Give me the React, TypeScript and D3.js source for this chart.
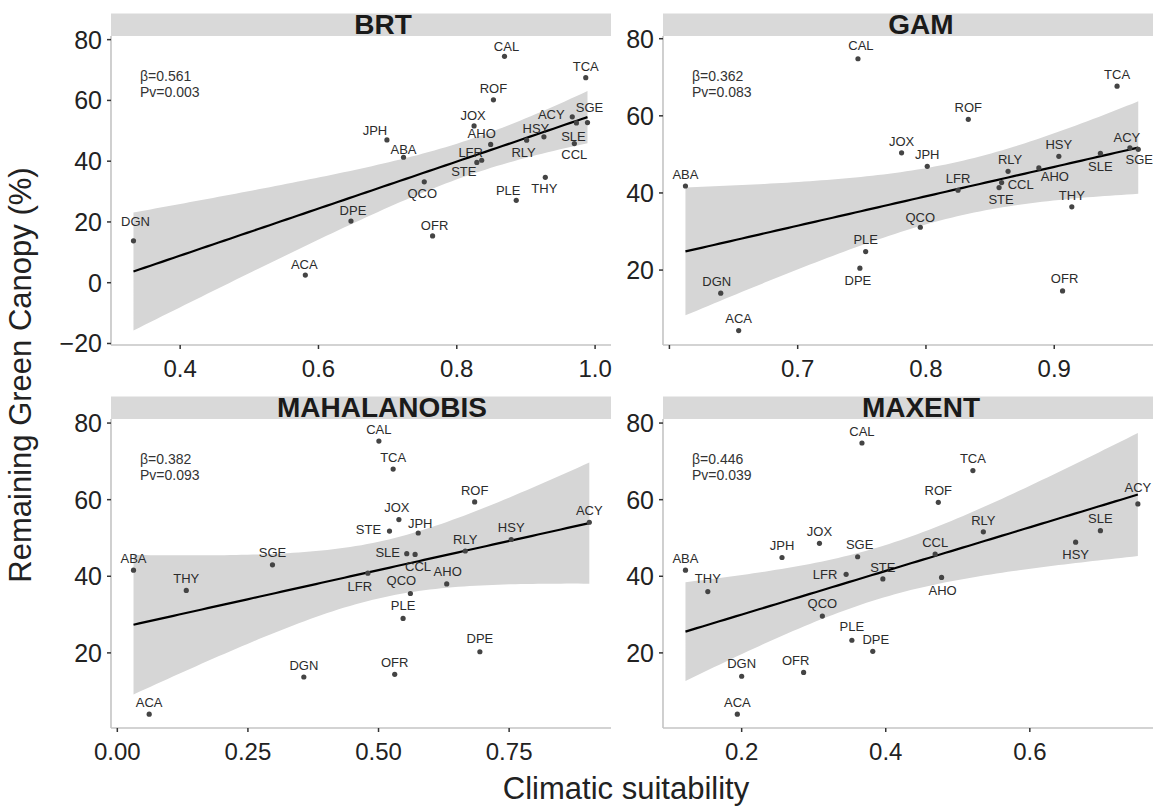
import React from "react";
import * as d3 from "d3";

// species codes, same order in every model
const species = ["ABA", "ACA", "ACY", "AHO", "CAL", "CCL", "DGN", "DPE", "HSY", "JOX", "JPH",
  "LFR", "OFR", "PLE", "QCO", "RLY", "ROF", "SGE", "SLE", "STE", "TCA", "THY"];

// climatic suitability per model
const brtSuit = [0.723, 0.581, 0.967, 0.849, 0.869, 0.970, 0.3325, 0.647, 0.926, 0.825, 0.699,
  0.836, 0.765, 0.886, 0.753, 0.901, 0.853, 0.989, 0.973, 0.829, 0.9865, 0.928];
const gamSuit = [0.6125, 0.654, 0.959, 0.888, 0.747, 0.859, 0.640, 0.7485, 0.9036, 0.781, 0.801,
  0.825, 0.9065, 0.753, 0.7956, 0.864, 0.833, 0.9655, 0.936, 0.857, 0.949, 0.9137];
const mahSuit = [0.031, 0.061, 0.9035, 0.6305, 0.5007, 0.570, 0.357, 0.694, 0.754, 0.539, 0.576,
  0.4796, 0.531, 0.547, 0.561, 0.666, 0.684, 0.297, 0.554, 0.521, 0.528, 0.132];
const maxSuit = [0.122, 0.194, 0.750, 0.4775, 0.367, 0.4686, 0.200, 0.382, 0.6636, 0.308, 0.256,
  0.345, 0.286, 0.353, 0.312, 0.5355, 0.473, 0.361, 0.698, 0.396, 0.521, 0.153];

// remaining green canopy (%) as plotted in each panel
const brtCanopy = [41.3, 2.5, 54.6, 45.5, 74.5, 45.8, 13.8, 20.3, 48.0, 51.6, 47.0,
  40.3, 15.4, 27.1, 33.2, 46.9, 60.2, 52.7, 52.6, 39.6, 67.5, 34.7];
const gamCanopy = [41.8, 4.3, 51.7, 46.5, 74.8, 42.7, 14.0, 20.5, 49.5, 50.4, 46.9,
  40.7, 14.6, 24.8, 31.1, 45.6, 59.1, 51.3, 50.3, 41.4, 67.7, 36.4];
const mahCanopy = [41.6, 4.0, 54.1, 38.0, 75.3, 45.7, 13.7, 20.3, 49.6, 54.8, 51.3,
  40.8, 14.4, 29.0, 35.5, 46.6, 59.4, 43.0, 45.9, 51.8, 68.0, 36.3];
const maxCanopy = [41.6, 4.0, 58.9, 39.7, 74.8, 45.8, 13.9, 20.4, 48.9, 48.6, 44.9,
  40.5, 14.9, 23.3, 29.6, 51.6, 59.3, 45.1, 51.9, 39.3, 67.6, 36.0];

const modelNames = ["BRT", "GAM", "MAHALANOBIS", "MAXENT"];
const betaLabels = ["β=0.561", "β=0.362", "β=0.382", "β=0.446"];
const pvLabels = ["Pv=0.003", "Pv=0.083", "Pv=0.093", "Pv=0.039"];

const brtXTicks = [0.4, 0.6, 0.8, 1.0];
const gamXTicks = [0.6, 0.7, 0.8, 0.9];
const mahXTicks = [0, 0.25, 0.5, 0.75];
const maxXTicks = [0.2, 0.4, 0.6];
const brtYTicks = [-20, 0, 20, 40, 60, 80];
const otherYTicks = [20, 40, 60, 80];

const T_CRIT = 2.086; // qt(0.975, df = 20)

// label nudges (px, label centre relative to the point)
const nudges: Record<string, [number, number]>[] = [
  { DGN: [2, -19], ACA: [-1, -11], CAL: [2, -10], TCA: [0, -11], ROF: [0, -11], JOX: [-1, -11],
    AHO: [-9, -11], JPH: [-12, -10], ABA: [0, -8], LFR: [-11, -8], STE: [-13, 9], QCO: [-2, 11],
    DPE: [2, -11], OFR: [2, -11], PLE: [-8, -10], THY: [-1, 11], RLY: [-3, 12], HSY: [-8, -9],
    ACY: [-21, -3], SGE: [2, -15], SLE: [-3, 13], CCL: [0, 11] },
  { CAL: [3, -13], DPE: [-2, 12], DGN: [-4, -12], RLY: [2, -12], CCL: [19, 2], STE: [2, 12],
    AHO: [16, 8], SLE: [0, 13], ACY: [-3, -11], SGE: [1, 10], QCO: [0, -10], OFR: [2, -13] },
  { JOX: [-2, -12], STE: [-21, -2], JPH: [2, -10], SLE: [-19, -1], CCL: [3, 12], LFR: [-8, 13],
    QCO: [-9, -13], AHO: [1, -13], PLE: [0, -13], DPE: [0, -13] },
  { SGE: [2, -12], LFR: [-21, 0], PLE: [0, -14], DPE: [3, -12], OFR: [-8, -12], AHO: [1, 13],
    HSY: [0, 12], ACY: [0, -17], THY: [0, -13], QCO: [0, -13], DGN: [0, -13] },
];

const FONT = "'Liberation Sans', Arial, Helvetica, sans-serif";

function fitBand(xs: number[], ys: number[]) {
  const n = xs.length;
  const mx = d3.mean(xs)!;
  const my = d3.mean(ys)!;
  const sxx = d3.sum(xs, (x) => (x - mx) ** 2);
  const sxy = d3.sum(xs.map((x, i) => (x - mx) * (ys[i] - my)));
  const b = sxy / sxx;
  const a = my - b * mx;
  const sse = d3.sum(xs.map((x, i) => (ys[i] - a - b * x) ** 2));
  const s = Math.sqrt(sse / (n - 2));
  const [x0, x1] = d3.extent(xs) as [number, number];
  return d3.range(81).map((k) => {
    const x = x0 + ((x1 - x0) * k) / 80;
    const fit = a + b * x;
    const se = s * Math.sqrt(1 / n + (x - mx) ** 2 / sxx);
    return { x, fit, lo: fit - T_CRIT * se, hi: fit + T_CRIT * se };
  });
}

type Panel = {
  xs: number[]; ys: number[];
  left: number; right: number; top: number; bottom: number;
  xDomain: [number, number]; yDomain: [number, number];
  xTicks: number[]; yTicks: number[]; xFmt: string; hideX?: number[];
  titleX: number;
};

const panels: Panel[] = [
  { xs: brtSuit, ys: brtCanopy, left: 111, right: 611, top: 36, bottom: 345,
    xDomain: [0.3, 1.023], yDomain: [-20.5, 81.2], xTicks: brtXTicks, yTicks: brtYTicks, xFmt: ".1f", titleX: 383 },
  { xs: gamSuit, ys: gamCanopy, left: 663, right: 1153, top: 36, bottom: 345,
    xDomain: [0.595, 0.977], yDomain: [0.57, 80.7], xTicks: gamXTicks, yTicks: otherYTicks, xFmt: ".1f", hideX: [0.6], titleX: 921 },
  { xs: mahSuit, ys: mahCanopy, left: 111, right: 611, top: 419, bottom: 728,
    xDomain: [-0.0121, 0.945], yDomain: [0.39, 81.06], xTicks: mahXTicks, yTicks: otherYTicks, xFmt: ".2f", titleX: 382 },
  { xs: maxSuit, ys: maxCanopy, left: 663, right: 1153, top: 419, bottom: 728,
    xDomain: [0.0908, 0.771], yDomain: [0.39, 81.06], xTicks: maxXTicks, yTicks: otherYTicks, xFmt: ".1f", titleX: 921 },
];

function Facet({ p, i }: { p: Panel; i: number }) {
  const x = d3.scaleLinear().domain(p.xDomain).range([p.left, p.right]);
  const y = d3.scaleLinear().domain(p.yDomain).range([p.bottom, p.top]);
  const band = fitBand(p.xs, p.ys);
  const area = d3.area<any>().x((d) => x(d.x)).y0((d) => y(d.lo)).y1((d) => y(d.hi));
  const line = d3.line<any>().x((d) => x(d.x)).y((d) => y(d.fit));
  const fmtX = d3.format(p.xFmt);
  const fmtY = d3.format("d");
  const clipId = `clip${i}`;
  const stripTop = p.top - 22.5;
  return (
    <g>
      <defs>
        <clipPath id={clipId}>
          <rect x={p.left} y={p.top} width={p.right - p.left} height={p.bottom - p.top} />
        </clipPath>
      </defs>
      <rect x={p.left} y={stripTop} width={p.right - p.left} height={22.5} fill="#d9d9d9" />
      <text x={p.titleX} y={p.top - 2.5} textAnchor="middle" fontSize={28} fontWeight="bold" fill="#1a1a1a">
        {modelNames[i]}
      </text>
      <g clipPath={`url(#${clipId})`}>
        <path d={area(band)!} fill="#d6d6d6" />
        <path d={line(band)!} fill="none" stroke="#000" strokeWidth={2.2} />
      </g>
      {/* axes */}
      <line x1={p.left} x2={p.left} y1={p.top} y2={p.bottom} stroke="#c4c4c4" strokeWidth={1.6} />
      <line x1={p.left} x2={p.right} y1={p.bottom} y2={p.bottom} stroke="#c4c4c4" strokeWidth={1.6} />
      {p.yTicks.map((t) => (
        <g key={`y${t}`}>
          <line x1={p.left - 4} x2={p.left} y1={y(t)} y2={y(t)} stroke="#333" strokeWidth={1.5} />
          <text x={p.left - 9} y={y(t)} dy="0.36em" textAnchor="end" fontSize={25} fill="#222">
            {fmtY(t)}
          </text>
        </g>
      ))}
      {p.xTicks.map((t) => (
        <g key={`x${t}`}>
          <line x1={x(t)} x2={x(t)} y1={p.bottom} y2={p.bottom + 4} stroke="#333" strokeWidth={1.5} />
          {!(p.hideX || []).includes(t) && (
            <text x={x(t)} y={p.bottom + 32} textAnchor="middle" fontSize={24} fill="#222">
              {fmtX(t)}
            </text>
          )}
        </g>
      ))}
      {/* stats */}
      <text x={p.left + 29} y={p.top + 45} fontSize={14} fill="#333">{betaLabels[i]}</text>
      <text x={p.left + 29} y={p.top + 61} fontSize={14} fill="#333">{pvLabels[i]}</text>
      {/* points and labels */}
      {species.map((s, k) => {
        const cx = x(p.xs[k]);
        const cy = y(p.ys[k]);
        const [dx, dy] = nudges[i][s] || [0, -12];
        return (
          <g key={s}>
            <circle cx={cx} cy={cy} r={2.6} fill="#444" />
            <text x={cx + dx} y={cy + dy} dy="0.36em" textAnchor="middle" fontSize={13} fill="#2b2b2b">
              {s}
            </text>
          </g>
        );
      })}
    </g>
  );
}

export default function App() {
  return (
    <svg width={1157} height={806} style={{ position: "absolute", left: 0, top: 0, background: "#fff" }}
      fontFamily={FONT}>
      <rect width={1157} height={806} fill="#fff" />
      {panels.map((p, i) => (
        <Facet key={modelNames[i]} p={p} i={i} />
      ))}
      <text transform="translate(31,375) rotate(-90)" textAnchor="middle" fontSize={31} fill="#222">
        Remaining Green Canopy (%)
      </text>
      <text x={626} y={799} textAnchor="middle" fontSize={31} fill="#222">
        Climatic suitability
      </text>
    </svg>
  );
}
